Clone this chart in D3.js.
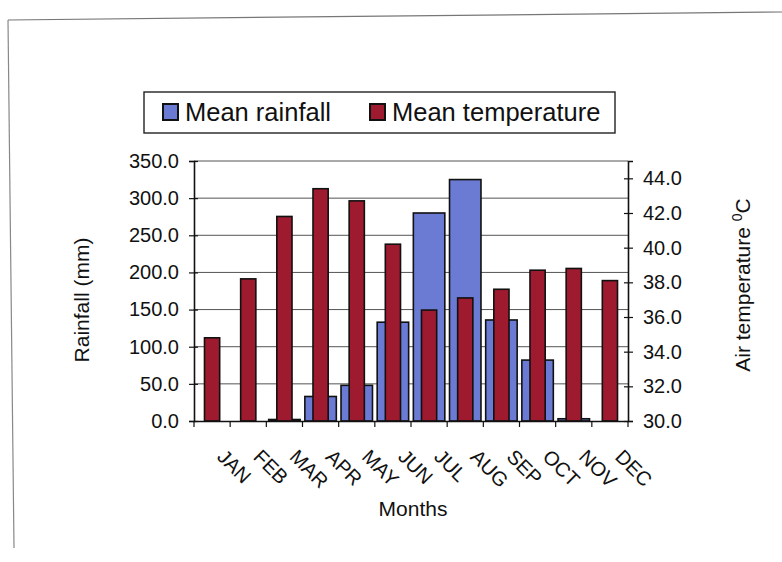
<!DOCTYPE html>
<html><head><meta charset="utf-8">
<script src="https://cdn.jsdelivr.net/npm/d3@7/dist/d3.min.js"></script>
<style>
html,body{margin:0;padding:0;background:#fff;}
svg{display:block;font-family:"Liberation Sans",Arial,sans-serif;}
</style></head>
<body>
<svg id="chart" width="782" height="562"></svg>
<script>
const months = ["JAN","FEB","MAR","APR","MAY","JUN","JUL","AUG","SEP","OCT","NOV","DEC"];
const rainfall = [0, 0, 2, 33, 48, 133, 280, 325, 136, 82, 3, 0];
const temperature = [34.8, 38.2, 41.8, 43.4, 42.7, 40.2, 36.4, 37.1, 37.6, 38.7, 38.8, 38.1];
const rainTicks = [0, 50, 100, 150, 200, 250, 300, 350];
const tempTicks = [30, 32, 34, 36, 38, 40, 42, 44];
const seriesNames = ["Mean rainfall", "Mean temperature"];
const colors = ["#6b7bd3", "#9e1a2e"];

const svg = d3.select("#chart");
const L = 194, R = 628, T = 161, B = 421;

// scanned frame
svg.append("line").attr("x1",8).attr("y1",20).attr("x2",782).attr("y2",12)
  .attr("stroke","#777").attr("stroke-width",1.2);
svg.append("line").attr("x1",8).attr("y1",20).attr("x2",14).attr("y2",548)
  .attr("stroke","#888").attr("stroke-width",1.2);

const x = d3.scaleBand().domain(months).range([L, R]);
const yL = d3.scaleLinear().domain([0, 350]).range([B, T]);
const yR = d3.scaleLinear().domain([30, 45]).range([B, T]);

// gridlines
svg.append("g").selectAll("line").data(rainTicks.filter(d => d > 0)).join("line")
  .attr("x1", L).attr("x2", R).attr("y1", d => yL(d)).attr("y2", d => yL(d))
  .attr("stroke", "#555").attr("stroke-width", 1);

// rainfall bars
const bw = x.bandwidth() * 0.87;
svg.append("g").selectAll("rect").data(rainfall).join("rect")
  .attr("x", (d, i) => x(months[i]) + (x.bandwidth() - bw) / 2)
  .attr("y", d => yL(d)).attr("width", bw).attr("height", d => B - yL(d))
  .attr("fill", colors[0]).attr("stroke", "#111").attr("stroke-width", 1.6);

// temperature bars
const tw = x.bandwidth() * 0.42;
svg.append("g").selectAll("rect").data(temperature).join("rect")
  .attr("x", (d, i) => x(months[i]) + (x.bandwidth() - tw) / 2)
  .attr("y", d => yR(d)).attr("width", tw).attr("height", d => B - yR(d))
  .attr("fill", colors[1]).attr("stroke", "#111").attr("stroke-width", 1.6);

// left axis
const gl = svg.append("g").attr("transform", `translate(${L},0)`)
  .call(d3.axisLeft(yL).tickValues(rainTicks).tickFormat(d3.format(".1f")).tickSize(5).tickPadding(10));
gl.selectAll(".tick line").attr("x1", 4);
// right axis
const gr = svg.append("g").attr("transform", `translate(${R},0)`)
  .call(d3.axisRight(yR).tickValues(tempTicks).tickFormat(d3.format(".1f")).tickSize(5).tickPadding(10));
gr.selectAll(".tick line").attr("x1", -4);
// bottom axis
const gb = svg.append("g").attr("transform", `translate(0,${B})`)
  .call(d3.axisBottom(x).tickSize(0).tickFormat(""));
gb.selectAll(".tick").remove();
gb.selectAll("line.bt").data(d3.range(months.length + 1)).join("line")
  .attr("class","bt")
  .attr("x1", i => L + i * x.step()).attr("x2", i => L + i * x.step())
  .attr("y1", 0).attr("y2", 6).attr("stroke", "#111").attr("stroke-width", 1.2);

[gl, gr, gb].forEach(g => {
  g.select(".domain").attr("stroke", "#111").attr("stroke-width", 1.6);
  g.selectAll(".tick line").attr("stroke", "#111").attr("stroke-width", 1.2);
  g.selectAll("text").attr("font-family", "Liberation Sans, Arial, sans-serif")
    .attr("font-size", 20).attr("fill", "#111");
});

// month labels
svg.append("g").selectAll("text").data(months).join("text")
  .attr("transform", d => `translate(${x(d) + x.bandwidth() / 2 + 4},458) rotate(45)`)
  .attr("font-size", 20).attr("fill", "#111").text(d => d);

// axis titles
svg.append("text").attr("transform", "translate(89,300) rotate(-90)")
  .attr("text-anchor", "middle").attr("font-size", 21).attr("fill", "#111").text("Rainfall (mm)");
const rt = svg.append("text").attr("transform", "translate(750,285) rotate(-90)")
  .attr("text-anchor", "middle").attr("font-size", 21).attr("fill", "#111");
rt.append("tspan").text("Air temperature ");
rt.append("tspan").attr("dy", -8).attr("font-size", 14).text("0");
rt.append("tspan").attr("dy", 8).text("C");
svg.append("text").attr("x", 413).attr("y", 516).attr("text-anchor", "middle")
  .attr("font-size", 21).attr("fill", "#111").text("Months");

// legend
svg.append("rect").attr("x", 144).attr("y", 92).attr("width", 471).attr("height", 41)
  .attr("fill", "#fff").attr("stroke", "#222").attr("stroke-width", 1.4);
const legX = [163, 370];
seriesNames.forEach((n, i) => {
  svg.append("rect").attr("x", legX[i]).attr("y", 104).attr("width", 15).attr("height", 16)
    .attr("fill", colors[i]).attr("stroke", "#111").attr("stroke-width", 2);
  svg.append("text").attr("x", legX[i] + 22).attr("y", 121).attr("font-size", 25.5)
    .attr("fill", "#111").text(n);
});
</script>
</body></html>
